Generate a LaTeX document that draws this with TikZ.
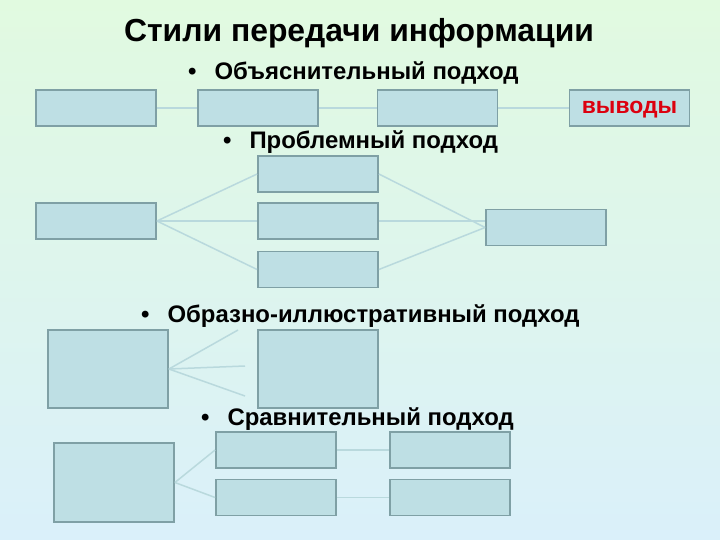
\documentclass[tikz,border=0pt]{standalone}
\usepackage{fontspec}
\setmainfont{Liberation Sans}
\usetikzlibrary{positioning,calc}

\definecolor{bgtop}{RGB}{225,250,224}
\definecolor{bgbot}{RGB}{218,240,250}
\definecolor{boxfill}{RGB}{190,223,228}
\definecolor{boxline}{RGB}{127,160,165}
\definecolor{linkcol}{RGB}{185,217,221}
\definecolor{outred}{RGB}{220,0,15}

\begin{document}
\begin{tikzpicture}[x=1bp,y=-1bp,
    box/.style={draw=boxline,fill=boxfill,line width=1.8bp,minimum width=120bp,minimum height=36bp,inner sep=0pt},
    tallbox/.style={box,minimum height=78bp},
    link/.style={draw=linkcol,line width=1.5bp},
    head/.style={font=\bfseries\fontsize{24}{28}\selectfont,anchor=west,inner sep=0pt}]
\useasboundingbox (0,0) rectangle (720,540);
\shade[top color=bgtop,bottom color=bgbot] (0,0) rectangle (720,540);

\node[font=\bfseries\fontsize{32}{36}\selectfont] (title) at (359,33) {Стили передачи информации};

\node[head] (h1) at (188,73) {\textbullet\hspace{18bp}Объяснительный подход};
\node[box] (a1) at (96,108) {};
\node[box] (a2) at (258,108) {};
\node[box] (a3) at (437.5,108) {};
\node[box,font=\bfseries\fontsize{23}{26}\selectfont,text=outred,text height=12bp,text depth=0pt] (a4) at (629.5,108) {выводы};
\draw[link] (a1) -- (a2);
\draw[link] (a2) -- (a3);
\draw[link] (a3) -- (a4);

\node[head] (h2) at (223,142) {\textbullet\hspace{18bp}Проблемный подход};
\node[box] (b0) at (96,221) {};
\node[box] (b1) at (318,174) {};
\node[box] (b2) at (318,221) {};
\node[box] (b3) at (318,269.5) {};
\node[box] (b4) at (546,227.5) {};
\foreach \i in {1,2,3} {
  \draw[link] (b0.east) -- (b\i.west);
}
\draw[link] (b1.east) -- (b4.west);
\draw[link] (b2.east) -- (b2.east -| b4.west);
\draw[link] (b3.east) -- (b4.west);

\node[head] (h3) at (141,316) {\textbullet\hspace{18bp}Образно-иллюстративный подход};
\node[tallbox] (c0) at (108,369) {};
\node[tallbox] (c1) at (318,369) {};
\coordinate (c2) at (238,330);
\coordinate (c3) at (245,366);
\coordinate (c4) at (245,396);
\foreach \i in {2,3,4} {
  \draw[link] (c0.east) -- (c\i);
}

\node[head] (h4) at (201,419) {\textbullet\hspace{18bp}Сравнительный подход};
\node[box,minimum height=79bp] (d0) at (114,482.5) {};
\node[box] (d1) at (276,450) {};
\node[box] (d2) at (276,497.5) {};
\node[box] (d3) at (450,450) {};
\node[box] (d4) at (450,497.5) {};
\draw[link] (d0.east) -- (d1.west);
\draw[link] (d0.east) -- (d2.west);
\draw[link] (d1) -- (d3);
\draw[link] (d2) -- (d4);
\end{tikzpicture}
\end{document}
